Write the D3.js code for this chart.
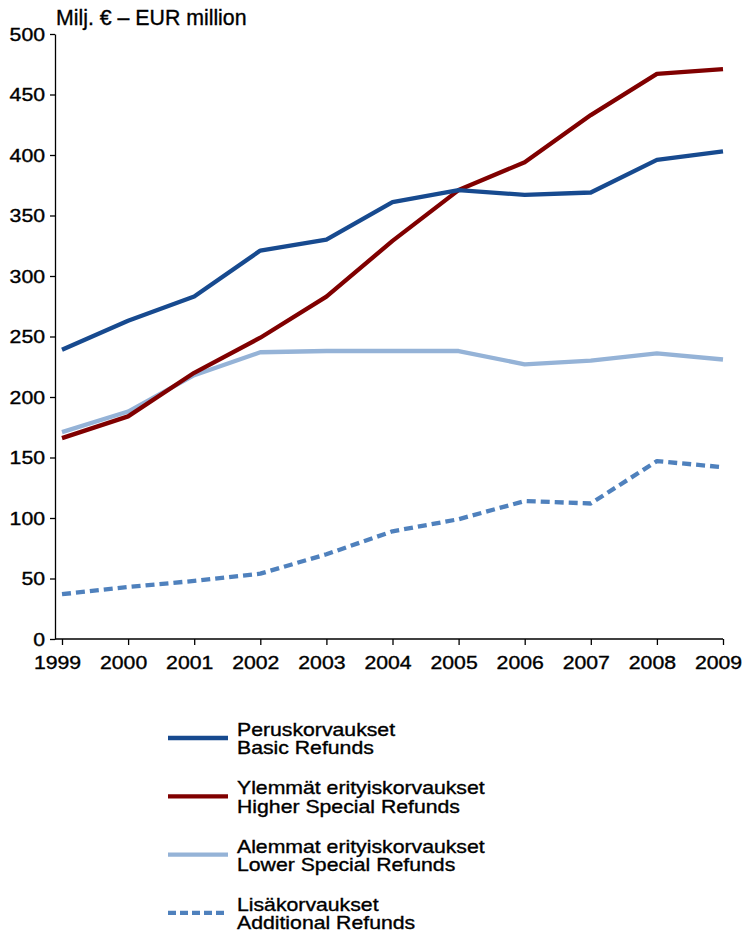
<!DOCTYPE html>
<html>
<head>
<meta charset="utf-8">
<script src="https://cdn.jsdelivr.net/npm/d3@7"></script>
<style>
  body { margin: 0; background: #fff; }
  svg text { font-family: Arial, "Liberation Sans", sans-serif; fill: #000; stroke: #000; stroke-width: 0.35px; }
  .stretch { transform-box: fill-box; transform: scaleX(1.18); }
  .y-axis .tick text { transform-origin: right center; }
  .x-axis .tick text { transform-origin: center center; }
  .legend text { transform-origin: left center; }
</style>
</head>
<body>
<svg id="chart" width="744" height="940"></svg>
<script>
// values (EUR million)
var years = [1999, 2000, 2001, 2002, 2003, 2004, 2005, 2006, 2007, 2008, 2009];
var basic      = [239, 263, 283, 321, 330, 361, 371, 367, 369, 396, 403];
var higher     = [166, 184, 220, 249, 283, 329, 371, 394, 433, 467, 471];
var lower      = [171, 188, 218, 237, 238, 238, 238, 227, 230, 236, 231];
var additional = [37, 43, 48, 54, 70, 89, 99, 114, 112, 147, 142];
var yTicks = [0, 50, 100, 150, 200, 250, 300, 350, 400, 450, 500];
var titleText = "Milj. \u20ac \u2013 EUR million";

var labelsFi = ["Peruskorvaukset", "Ylemmät erityiskorvaukset", "Alemmat erityiskorvaukset", "Lisäkorvaukset"];
var labelsEn = ["Basic Refunds", "Higher Special Refunds", "Lower Special Refunds", "Additional Refunds"];
var colors = ["#174a8f", "#800000", "#95b3d7", "#4f81bd"];
var dashes = [null, null, null, "9,5"];

var series = [basic, higher, lower, additional].map(function (vals, i) {
  return {
    fi: labelsFi[i], en: labelsEn[i], color: colors[i], dash: dashes[i],
    values: vals.map(function (v, j) { return {year: years[j], value: v}; })
  };
});

var svg = d3.select("#chart");
var axisLeftX = 55;

var x = d3.scaleLinear().domain([1999, 2009]).range([62, 723]);
var y = d3.scaleLinear().domain([0, 500]).range([639, 34]);

// y axis
var yAxis = svg.append("g")
  .attr("class", "y-axis")
  .attr("transform", "translate(" + axisLeftX + ",0)")
  .call(d3.axisLeft(y).tickValues(yTicks).tickSize(5).tickSizeOuter(0).tickPadding(5));
yAxis.selectAll("text").attr("class", "stretch").style("font-size", "18px").attr("dy", "0.36em");

// x axis, its line starts at the y axis
var xAxis = svg.append("g")
  .attr("class", "x-axis")
  .attr("transform", "translate(0," + y(0) + ")")
  .call(d3.axisBottom(x).tickValues(years).tickFormat(d3.format("d")).tickSize(6).tickSizeOuter(0).tickPadding(11));
xAxis.select(".domain").attr("d", "M" + axisLeftX + ",0H" + x(2009));
xAxis.selectAll("text").attr("class", "stretch").style("font-size", "18px").attr("dx", "-5");

svg.selectAll(".domain, .tick line").attr("stroke", "#000").attr("stroke-width", 1.3);

// title
svg.append("text")
  .attr("x", 56)
  .attr("y", 25)
  .style("font-size", "21.3px")
  .text(titleText);

var line = d3.line()
  .x(function (d) { return x(d.year); })
  .y(function (d) { return y(d.value); });

// draw dashed first, then light, red, blue on top
[3, 2, 1, 0].forEach(function (i) {
  var s = series[i];
  svg.append("path")
    .datum(s.values)
    .attr("fill", "none")
    .attr("stroke", s.color)
    .attr("stroke-width", 4.3)
    .attr("stroke-dasharray", s.dash)
    .attr("stroke-linejoin", "round")
    .attr("d", line);
});

// legend
var legend = svg.append("g").attr("class", "legend");
var items = legend.selectAll("g.item")
  .data(series)
  .enter().append("g")
  .attr("class", "item")
  .attr("transform", function (d, i) { return "translate(168," + (738 + i * 58.3) + ")"; });

items.append("line")
  .attr("x1", 0).attr("x2", 60)
  .attr("y1", 0).attr("y2", 0)
  .attr("stroke", function (d) { return d.color; })
  .attr("stroke-width", 4.3)
  .attr("stroke-dasharray", function (d) { return d.dash ? "8,4" : null; });

items.append("text")
  .attr("class", "stretch")
  .attr("x", 69).attr("y", -2)
  .style("font-size", "18px")
  .text(function (d) { return d.fi; });

items.append("text")
  .attr("class", "stretch")
  .attr("x", 69).attr("y", 16.5)
  .style("font-size", "18px")
  .text(function (d) { return d.en; });
</script>
</body>
</html>
